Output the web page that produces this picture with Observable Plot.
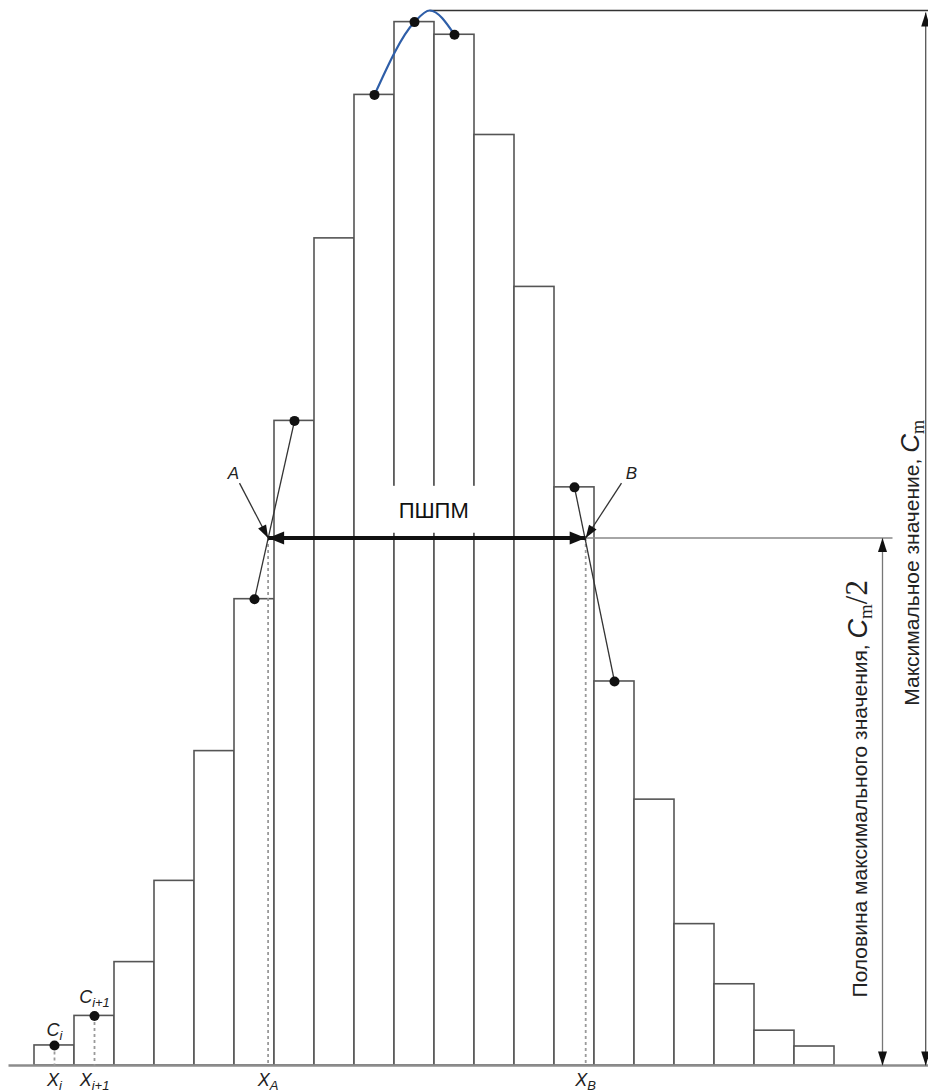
<!DOCTYPE html>
<html><head><meta charset="utf-8">
<script src="https://cdn.jsdelivr.net/npm/d3@7"></script>
<script src="https://cdn.jsdelivr.net/npm/@observablehq/plot@0.6"></script>
<style>body{margin:0;background:#fff} svg{display:block}</style>
</head><body><div id="chart"></div>
<script>
// ---- data (bar i spans bin [i, i+1]) ----
const counts = [1.9, 4.7, 9.8, 17.5, 29.8, 44.2, 61.1, 78.4, 92.0, 98.9, 97.7, 88.2, 73.8, 54.8, 36.4, 25.2, 13.4, 7.7, 3.3, 1.8];
const Cm = 100;          // fitted maximum
const halfMax = 50;      // Cm / 2
const peakX = 9.88;      // position of fitted maximum
const xA = 5.84;         // left half-maximum crossing
const xB = 13.78;        // right half-maximum crossing
const sampleBins = [0, 1];          // C_i, C_i+1
const leftBins = [5, 6];            // interpolation for A
const rightBins = [13, 14];         // interpolation for B
const peakBins = [8, 9, 10];        // parabola fit points
const xLimits = [-0.65, 22.35];
const cmArrowX = 22.28, halfArrowX = 21.2, halfLineEnd = 21.45;
const aTail = {x: 5.125, y: 55.2}, bTail = {x: 14.675, y: 55.2};
const maskBox = {x1: 8.92, x2: 11.08, y1: 50.45, y2: 54.9};

// ---- scales (shared) ----
const xDomain = [-0.85, 22.35], xRange = [0, 928];
const yDomain = [0, 100], yRange = [1065, 10];
const xs = d3.scaleLinear(xDomain, xRange), ys = d3.scaleLinear(yDomain, yRange);

// ---- derived mark data ----
const bars = counts.map((c, i) => ({x1: i, x2: i + 1, y: c}));
const ctr = i => ({x: i + 0.5, y: counts[i]});
const dotPts = [...sampleBins, ...leftBins, ...peakBins, ...rightBins].map(ctr);
const curvePts = [ctr(8), ctr(9), {x: peakX, y: Cm}, ctr(10)];
const dashed = [
  ...sampleBins.map(i => ({x1: i + 0.5, y1: counts[i], x2: i + 0.5, y2: 0})),
  {x1: xA, y1: halfMax, x2: xA, y2: 0},
  {x1: xB, y1: halfMax, x2: xB, y2: 0}
];
const connectors = [
  {x1: ctr(5).x, y1: ctr(5).y, x2: ctr(6).x, y2: ctr(6).y},
  {x1: ctr(13).x, y1: ctr(13).y, x2: ctr(14).x, y2: ctr(14).y}
];

function head(angleDeg, L, w) {
  const a = angleDeg * Math.PI / 180;
  const dx = Math.sin(a), dy = -Math.cos(a);
  const px = Math.cos(a), py = Math.sin(a);
  const bx = -L * dx, by = -L * dy;
  return {draw(ctx) {
    ctx.moveTo(0, 0);
    ctx.lineTo(bx + w * px, by + w * py);
    ctx.lineTo(bx - w * px, by - w * py);
    ctx.closePath();
  }};
}
function screenAngle(from, to) {
  const dx = xs(to.x) - xs(from.x), dy = ys(to.y) - ys(from.y);
  return Math.atan2(dx, -dy) * 180 / Math.PI;
}
const headDot = (pt, ang, L, w, fill) => Plot.dot([pt], {x: "x", y: "y", symbol: head(ang, L, w), r: 6, fill, stroke: "none"});

// ---- rich text ----
const S = "'Liberation Sans', Arial, sans-serif", SERIF = "'Liberation Serif', 'Times New Roman', serif";
const sub = (m, s, big, small, sh) => [{t: m, italic: true, size: big}, {t: s, italic: true, size: small, shift: sh}];
const rich = new Map([
  ["Xi", sub("X", "i", "18px", "13px", 4)],
  ["Xi+1", sub("X", "i+1", "18px", "13px", 4)],
  ["XA", sub("X", "A", "18px", "13px", 4)],
  ["XB", sub("X", "B", "18px", "13px", 4)],
  ["Ci", sub("C", "i", "18px", "13px", 4)],
  ["Ci+1", sub("C", "i+1", "18px", "13px", 4)],
  ["Максимальное значение, Cm", [
    {t: "Максимальное значение, "},
    {t: "C", italic: true, size: "26px"},
    {t: "m", family: SERIF, size: "18px", shift: 5}]],
  ["Половина максимального значения, Cm/2", [
    {t: "Половина максимального значения, "},
    {t: "C", italic: true, size: "27px"},
    {t: "m", family: SERIF, size: "19px", shift: 5},
    {t: "/2", family: SERIF, size: "31px", shift: 0}]]
]);

const bottomLabels = [{key: "Xi", x: 0.5}, {key: "Xi+1", x: 1.5}, {key: "XA", x: xA}, {key: "XB", x: xB}];
const cLabels = [{key: "Ci", x: 0.5, y: 2.84}, {key: "Ci+1", x: 1.5, y: 5.88}];
const abLabels = [{key: "A", x: 4.975, y: 55.6}, {key: "B", x: 14.925, y: 55.6}];
const rotLabels = [
  {key: "Максимальное значение, Cm", x: 21.95, y: 34.1},
  {key: "Половина максимального значения, Cm/2", x: 20.65, y: 6.45}
];

const svg = Plot.plot({
  width: 928, height: 1092, margin: 0,
  x: {domain: xDomain, range: xRange, axis: null},
  y: {domain: yDomain, range: yRange, axis: null},
  style: {fontFamily: S, background: "#fff", overflow: "visible", color: "#111"},
  marks: [
    Plot.rect(bars, {x1: "x1", x2: "x2", y1: 0, y2: "y", fill: "white", stroke: "#555", strokeWidth: 1.6}),
    Plot.link([{x1: xLimits[0], y1: 0, x2: xLimits[1], y2: 0}], {x1: "x1", y1: "y1", x2: "x2", y2: "y2", stroke: "#8c8c8c", strokeWidth: 2.5}),
    Plot.link(dashed, {x1: "x1", y1: "y1", x2: "x2", y2: "y2", stroke: "#9a9a9a", strokeWidth: 1.8, strokeDasharray: "3,3"}),
    Plot.rect([maskBox], {x1: "x1", x2: "x2", y1: "y1", y2: "y2", fill: "white"}),
    // top line and Cm arrow
    Plot.link([{x1: peakX, y1: Cm, x2: xLimits[1], y2: Cm}], {x1: "x1", y1: "y1", x2: "x2", y2: "y2", stroke: "#333", strokeWidth: 1.6}),
    Plot.link([{x1: cmArrowX, y1: Cm - 0.2, x2: cmArrowX, y2: 0}], {x1: "x1", y1: "y1", x2: "x2", y2: "y2", stroke: "#555", strokeWidth: 1.3}),
    headDot({x: cmArrowX, y: Cm - 0.2}, 0, 14, 4.5, "#111"),
    headDot({x: cmArrowX, y: 0}, 180, 14, 4.5, "#111"),
    // half max line and arrow
    Plot.link([{x1: xB, y1: halfMax, x2: halfLineEnd, y2: halfMax}], {x1: "x1", y1: "y1", x2: "x2", y2: "y2", stroke: "#888", strokeWidth: 1.4}),
    Plot.link([{x1: halfArrowX, y1: halfMax, x2: halfArrowX, y2: 0}], {x1: "x1", y1: "y1", x2: "x2", y2: "y2", stroke: "#777", strokeWidth: 1.3}),
    headDot({x: halfArrowX, y: halfMax}, 0, 14, 4.5, "#111"),
    headDot({x: halfArrowX, y: 0}, 180, 14, 4.5, "#111"),
    // interpolation lines
    Plot.link(connectors, {x1: "x1", y1: "y1", x2: "x2", y2: "y2", stroke: "#333", strokeWidth: 1.3}),
    // FWHM arrow
    Plot.link([{x1: xA, y1: halfMax, x2: xB, y2: halfMax}], {x1: "x1", y1: "y1", x2: "x2", y2: "y2", stroke: "#111", strokeWidth: 4}),
    headDot({x: xA, y: halfMax}, 270, 16, 6.5, "#111"),
    headDot({x: xB, y: halfMax}, 90, 16, 6.5, "#111"),
    // A and B pointers
    Plot.link([{x1: aTail.x, y1: aTail.y, x2: xA, y2: halfMax}, {x1: bTail.x, y1: bTail.y, x2: xB, y2: halfMax}], {x1: "x1", y1: "y1", x2: "x2", y2: "y2", stroke: "#333", strokeWidth: 1.3}),
    headDot({x: xA, y: halfMax}, screenAngle(aTail, {x: xA, y: halfMax}), 13, 4.5, "#111"),
    headDot({x: xB, y: halfMax}, screenAngle(bTail, {x: xB, y: halfMax}), 13, 4.5, "#111"),
    // peak fit curve
    Plot.line(curvePts, {x: "x", y: "y", curve: "monotone-x", stroke: "#2e5ea8", strokeWidth: 2.2}),
    Plot.dot(dotPts, {x: "x", y: "y", r: 5, fill: "#111", stroke: "none"}),
    // labels
    Plot.text(["ПШПМ"], {x: 9.98, y: 51.85, text: d => d, fontSize: 22, lineAnchor: "bottom", fill: "#111"}),
    Plot.text(bottomLabels, {x: "x", y: -1.9, text: "key", fontSize: 18, lineAnchor: "bottom", fill: "#222"}),
    Plot.text(cLabels, {x: "x", y: "y", text: "key", fontSize: 18, lineAnchor: "bottom", fill: "#222"}),
    Plot.text(abLabels, {x: "x", y: "y", text: "key", fontSize: 17, fontStyle: "italic", lineAnchor: "bottom", fill: "#222"}),
    Plot.text(rotLabels, {x: "x", y: "y", text: "key", fontSize: 21, rotate: -90, textAnchor: "start", lineAnchor: "middle", fill: "#222"})
  ]
});

const NS = "http://www.w3.org/2000/svg";
svg.querySelectorAll("text").forEach(el => {
  const parts = rich.get(el.textContent);
  if (!parts) return;
  el.textContent = "";
  let cur = 0;
  for (const p of parts) {
    const ts = document.createElementNS(NS, "tspan");
    ts.textContent = p.t;
    if (p.size) ts.setAttribute("font-size", p.size);
    if (p.italic) ts.setAttribute("font-style", "italic");
    if (p.family) ts.setAttribute("font-family", p.family);
    const sh = p.shift || 0;
    if (sh !== cur) { ts.setAttribute("dy", sh - cur); cur = sh; }
    el.appendChild(ts);
  }
});
document.getElementById("chart").appendChild(svg);
</script>
</body></html>
